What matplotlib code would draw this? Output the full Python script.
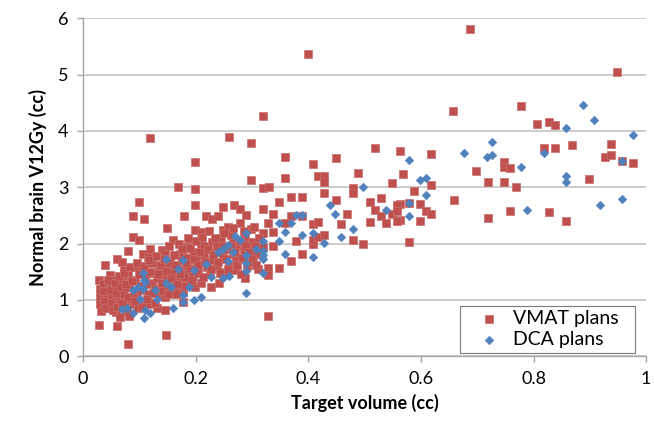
import matplotlib
matplotlib.use("Agg")
import matplotlib.pyplot as plt

plt.rcParams['font.family'] = ['Lato', 'DejaVu Sans']

# VMAT plans: target volume (cc), normal brain V12Gy (cc)
vmat_x = [0.687, 0.399, 0.948, 0.319, 0.657, 0.777, 0.807, 0.828, 0.838, 0.818,
          0.838, 0.868, 0.938, 0.927, 0.938, 0.957, 0.977, 0.697, 0.719, 0.748,
          0.748, 0.758, 0.748, 0.768, 0.899, 0.658, 0.719, 0.758, 0.828, 0.858,
          0.563, 0.618, 0.568, 0.618, 0.588, 0.563, 0.578, 0.599, 0.609, 0.618,
          0.599, 0.563, 0.578, 0.359, 0.359, 0.409, 0.449, 0.519, 0.418, 0.428,
          0.428, 0.488, 0.549, 0.320, 0.330, 0.479, 0.428, 0.479, 0.369, 0.388,
          0.348, 0.449, 0.509, 0.529, 0.319, 0.338, 0.369, 0.388, 0.468, 0.519,
          0.529, 0.549, 0.558, 0.558, 0.329, 0.359, 0.409, 0.418, 0.458, 0.509,
          0.538, 0.558, 0.319, 0.338, 0.378, 0.409, 0.409, 0.418, 0.428, 0.479,
          0.498, 0.319, 0.338, 0.388, 0.369, 0.348, 0.329, 0.329, 0.329,
          0.118, 0.198, 0.259, 0.298,
          0.169, 0.199, 0.298, 0.099, 0.199, 0.249, 0.268, 0.279, 0.089, 0.108,
          0.179, 0.218, 0.229, 0.239, 0.289, 0.279, 0.149, 0.199, 0.209, 0.249,
          0.258, 0.089, 0.099, 0.159, 0.189, 0.209, 0.229, 0.288, 0.298, 0.267,
          0.285, 0.079, 0.119, 0.140, 0.039, 0.029, 0.029, 0.079, 0.148, 0.060,
          0.060, 0.070, 0.107, 0.116, 0.146, 0.172, 0.184, 0.048, 0.054, 0.072,
          0.080, 0.095, 0.104, 0.113, 0.122, 0.134, 0.143, 0.155, 0.166, 0.178,
          0.125, 0.148, 0.166, 0.184, 0.146, 0.131, 0.134, 0.146, 0.166, 0.178,
          0.178, 0.196, 0.214, 0.234, 0.249, 0.267, 0.294, 0.308, 0.184, 0.202,
          0.237, 0.270, 0.288, 0.187, 0.199, 0.228, 0.178, 0.300,
          0.030, 0.030, 0.030, 0.032, 0.040, 0.042, 0.045, 0.050, 0.052, 0.055,
          0.058, 0.062, 0.065, 0.066, 0.070, 0.072, 0.075, 0.078, 0.082, 0.085,
          0.088, 0.092, 0.095, 0.098, 0.102, 0.105, 0.110, 0.115, 0.118, 0.122,
          0.128, 0.132, 0.138, 0.142, 0.150, 0.155, 0.160, 0.165, 0.170, 0.175,
          0.180, 0.185, 0.190, 0.195, 0.200, 0.205, 0.210, 0.215, 0.220, 0.225,
          0.230, 0.238, 0.242, 0.245, 0.252, 0.255, 0.260, 0.262, 0.272, 0.275,
          0.280, 0.285, 0.292, 0.298, 0.302, 0.305, 0.310, 0.312,
          0.035, 0.036, 0.038, 0.040, 0.044, 0.047, 0.049, 0.053, 0.057, 0.059,
          0.061, 0.064, 0.068, 0.069, 0.073, 0.076, 0.079, 0.081, 0.084, 0.087,
          0.090, 0.093, 0.096, 0.099, 0.101, 0.104, 0.108, 0.112, 0.114, 0.117,
          0.120, 0.124, 0.127, 0.130, 0.133, 0.136, 0.140, 0.144, 0.147, 0.151,
          0.153, 0.157, 0.161, 0.163, 0.167, 0.170, 0.173, 0.176, 0.181, 0.183,
          0.186, 0.190, 0.193, 0.197, 0.201, 0.204, 0.207, 0.211, 0.213, 0.217,
          0.221, 0.224, 0.227, 0.231, 0.235, 0.240, 0.243, 0.247, 0.251, 0.254,
          0.258, 0.263, 0.266, 0.270, 0.274, 0.278, 0.282, 0.286, 0.290, 0.295,
          0.300, 0.304, 0.307]
vmat_y = [5.81, 5.37, 5.04, 4.26, 4.36, 4.44, 4.13, 4.15, 4.11, 3.70,
          3.70, 3.75, 3.77, 3.53, 3.58, 3.46, 3.43, 3.29, 3.10, 3.44,
          3.36, 3.34, 3.10, 3.00, 3.15, 2.78, 2.45, 2.58, 2.56, 2.40,
          3.64, 3.59, 3.24, 3.04, 2.94, 2.71, 2.72, 2.70, 2.58, 2.53,
          2.40, 2.42, 2.03, 3.53, 3.17, 3.41, 3.51, 3.69, 3.20, 3.19,
          3.10, 3.26, 3.08, 2.98, 3.01, 2.98, 2.90, 2.90, 2.82, 2.82,
          2.73, 2.78, 2.74, 2.80, 2.62, 2.52, 2.49, 2.49, 2.53, 2.59,
          2.49, 2.52, 2.68, 2.58, 2.37, 2.36, 2.34, 2.39, 2.34, 2.39,
          2.37, 2.40, 2.18, 2.21, 2.05, 1.99, 2.06, 2.11, 2.15, 2.06,
          2.00, 1.94, 1.96, 1.82, 1.69, 1.57, 1.56, 1.44, 0.72,
          3.87, 3.45, 3.90, 3.78,
          3.01, 2.96, 3.12, 2.74, 2.69, 2.65, 2.69, 2.61, 2.49, 2.44,
          2.49, 2.49, 2.44, 2.48, 2.50, 2.36, 2.28, 2.24, 2.20, 2.24,
          2.30, 2.12, 2.06, 2.06, 2.03, 2.00, 2.03, 2.12, 2.00, 2.06,
          2.00, 1.87, 1.91, 1.88, 1.62, 1.35, 0.56, 0.21, 0.37, 0.54,
          1.73, 1.67, 1.82, 1.76, 1.82, 1.82, 1.94, 1.44, 1.35, 1.53,
          1.44, 1.59, 1.53, 1.47, 1.65, 1.53, 1.59, 1.65, 1.59, 1.53,
          1.47, 1.41, 1.41, 1.47, 0.82, 0.85, 1.08, 1.05, 1.23, 1.14,
          1.82, 1.85, 1.79, 1.85, 1.76, 1.82, 1.76, 1.82, 1.62, 1.59,
          1.59, 1.53, 1.38, 1.35, 1.23, 1.23, 0.96, 2.03,
          1.20, 1.05, 0.92, 0.80, 1.12, 0.98, 0.86, 1.25, 1.05, 0.92,
          0.78, 1.18, 1.00, 0.70, 1.32, 1.10, 0.90, 0.80, 1.22, 1.02,
          0.92, 1.35, 1.12, 0.85, 1.25, 0.98, 1.40, 1.10, 0.92, 1.30,
          1.20, 1.38, 1.25, 1.15, 1.30, 1.20, 1.50, 1.10, 1.32, 1.70,
          1.40, 1.75, 1.55, 1.42, 1.70, 1.48, 1.30, 1.95, 1.58, 1.45,
          1.70, 1.95, 1.30, 2.10, 1.50, 1.90, 1.62, 2.15, 1.70, 1.95,
          1.45, 1.88, 1.60, 2.25, 1.68, 1.95, 1.55, 2.10,
          1.28, 1.15, 0.98, 0.85, 1.35, 1.18, 0.94, 0.82, 1.30, 1.12,
          0.88, 1.42, 1.22, 0.95, 1.47, 1.28, 1.05, 0.72, 1.58, 1.33,
          1.10, 0.98, 1.66, 1.45, 1.18, 0.88, 1.60, 1.28, 1.02, 1.70,
          1.50, 1.12, 0.95, 1.78, 1.45, 1.62, 1.30, 1.72, 1.52, 1.10,
          1.95, 1.38, 1.80, 1.62, 1.28, 2.00, 1.45, 1.90, 1.25, 1.65,
          2.10, 1.92, 1.35, 1.72, 2.05, 1.62, 1.85, 2.12, 1.40, 1.68,
          1.90, 2.22, 1.55, 1.80, 2.10, 1.68, 1.48, 1.95, 2.18, 1.72,
          1.55, 1.95, 2.28, 1.85, 1.62, 2.05, 1.75, 2.22, 1.95, 1.85,
          1.72, 2.30, 1.62]

# DCA plans
dca_x = [0.887, 0.908, 0.858, 0.977, 0.727, 0.677, 0.718, 0.727, 0.777, 0.818,
         0.857, 0.857, 0.957, 0.788, 0.918, 0.957, 0.578, 0.599, 0.609, 0.609,
         0.578, 0.578, 0.498, 0.439, 0.448, 0.538, 0.348, 0.369, 0.378, 0.388,
         0.359, 0.388, 0.409, 0.428, 0.458, 0.479, 0.319, 0.348, 0.319, 0.319,
         0.319, 0.359, 0.409, 0.319, 0.148, 0.178, 0.168, 0.107, 0.110, 0.098,
         0.107, 0.089, 0.128, 0.148, 0.157, 0.101, 0.131, 0.178, 0.178, 0.069,
         0.078, 0.089, 0.110, 0.119, 0.108, 0.159, 0.269, 0.290, 0.279, 0.258,
         0.249, 0.240, 0.308, 0.267, 0.197, 0.218, 0.258, 0.290, 0.290, 0.290,
         0.228, 0.249, 0.260, 0.189, 0.197, 0.209, 0.290, 0.108]
dca_y = [4.46, 4.19, 4.05, 3.93, 3.80, 3.61, 3.53, 3.58, 3.36, 3.61,
         3.20, 3.10, 3.46, 2.60, 2.68, 2.79, 3.48, 3.13, 3.17, 2.87,
         2.72, 2.49, 3.01, 2.68, 2.52, 2.59, 2.36, 2.37, 2.50, 2.50,
         2.20, 2.15, 2.18, 2.01, 2.12, 2.26, 2.05, 2.05, 1.87, 1.79,
         1.72, 1.81, 1.76, 1.47, 1.72, 1.71, 1.54, 1.47, 1.32, 1.23,
         1.20, 1.17, 1.17, 1.30, 1.23, 1.02, 1.02, 1.08, 0.96, 0.83,
         0.86, 0.77, 0.82, 0.76, 0.67, 0.85, 2.14, 2.18, 2.06, 1.97,
         1.91, 1.85, 1.91, 1.85, 1.53, 1.63, 1.69, 1.79, 1.66, 1.52,
         1.40, 1.38, 1.42, 1.23, 0.99, 1.05, 1.13, 1.35]

x_ticks = [0, 0.2, 0.4, 0.6, 0.8, 1]
x_labels = ['0', '0.2', '0.4', '0.6', '0.8', '1']
y_ticks = [0, 1, 2, 3, 4, 5, 6]

fig = plt.figure(figsize=(6.54, 4.24), dpi=100)
ax = fig.add_axes([0.127, 0.160, 0.861, 0.797])

ax.scatter(vmat_x, vmat_y, marker='s', s=36, color='#C0504D',
           edgecolors='#C9706D', linewidths=0.5, label='VMAT plans', zorder=3)
ax.scatter(dca_x, dca_y, marker='D', s=20, color='#4F81BD',
           edgecolors='#4F81BD', linewidths=0.3, label='DCA plans', zorder=4)

ax.set_xlim(0, 1)
ax.set_ylim(0, 6)
ax.set_xticks(x_ticks)
ax.set_xticklabels(x_labels)
ax.set_yticks(y_ticks)

ax.grid(axis='y', color='#BFBFBF', linewidth=1.1, zorder=0)
ax.set_axisbelow(True)
for side in ['top', 'right']:
    ax.spines[side].set_visible(False)
for side in ['left', 'bottom']:
    ax.spines[side].set_color('#A6A6A6')
    ax.spines[side].set_linewidth(1.0)
ax.tick_params(axis='both', direction='out', length=4.5, width=1.0,
               color='#A6A6A6', labelsize=13, labelcolor='#000000', pad=6)

ax.set_xlabel('Target volume (cc)', fontsize=13, fontweight='bold', labelpad=5)
ax.set_ylabel('Normal brain V12Gy (cc)', fontsize=13, fontweight='bold', labelpad=8)

# legend box sits in the lower right corner, like the Excel original
leg = ax.legend(loc='lower left', bbox_to_anchor=(0.670, 0.009, 0.310, 0.142),
                mode='expand', borderaxespad=0, fontsize=14, frameon=True,
                fancybox=False, handletextpad=0.05, borderpad=0.25,
                labelspacing=0.2, handlelength=2.4)
leg.get_frame().set_edgecolor('#595959')
leg.get_frame().set_linewidth(0.8)
leg.set_zorder(10)

fig.savefig('out.png', dpi=100)
